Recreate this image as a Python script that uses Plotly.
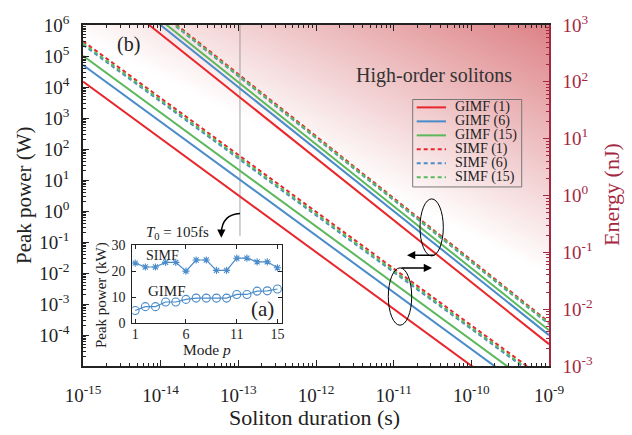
import numpy as np
import plotly.graph_objects as go

# ---- Scaling lines: soliton peak power and energy vs. duration ----
series_labels = ["GIMF (1)", "GIMF (6)", "GIMF (15)", "SIMF (1)", "SIMF (6)", "SIMF (15)"]
series_colors = ["#e8262b", "#4a8bc9", "#5cb85c", "#e8262b", "#4a8bc9", "#5cb85c"]
series_dashed = [False, False, False, True, True, True]

duration_ends = [1e-15, 1e-9]                      # s
peak_power_start = [5.07e7, 9.92e7, 1.43e8, 2.59e8, 2.24e8, 2.37e8]   # W at 1e-15 s
peak_power_end = [5.07e-5, 9.92e-5, 1.43e-4, 2.59e-4, 2.24e-4, 2.37e-4]  # W at 1e-9 s
energy_start = [101, 198, 287, 518, 448, 474]       # nJ at 1e-15 s
energy_end = [1.01e-4, 1.98e-4, 2.87e-4, 5.18e-4, 4.48e-4, 4.74e-4]   # nJ at 1e-9 s

# marker of the T0 = 105 fs duration
t0_duration = [1.05e-13, 1.05e-13]
t0_power = [1e6, 0.158]

# ---- Inset (a): peak power per mode at T0 = 105 fs ----
modes = list(range(1, 16))
simf_kw = [23.1, 21.6, 21.6, 23.4, 23.4, 20.0, 24.3, 24.3, 20.3, 20.3, 25.0, 25.0, 23.6, 23.6, 21.3]
gimf_kw = [4.8, 6.3, 6.3, 8.1, 8.1, 9.1, 9.6, 9.6, 9.6, 9.6, 11.0, 11.0, 12.3, 12.4, 13.1]

# ---- tick labels ----
x_exps = list(range(-15, -8))
p_exps = list(range(-4, 7))
e_exps = list(range(-3, 4))


def sup(e):
    return "10<sup>%d</sup>" % e


def minor_vals(lo, hi):
    return [k * 10.0 ** e for e in range(lo, hi) for k in range(2, 10)]


FONT = "Liberation Serif, Times New Roman, serif"
INK = "#222222"
CRIMSON = "#a3283f"
BLUE = "#4a8bc9"

W, H = 632, 435
L, R, T, B = 83, 549, 15, 366


def px(x):
    return (x - L) / (R - L)


def py(y):
    return (B - y) / (B - T)


fig = go.Figure()

# shaded "high-order soliton" background on a hidden linear frame
gu = np.linspace(0, 1, 160)
gv = np.linspace(0, 1, 160)
U, V = np.meshgrid(gu, gv)
shade = np.clip(1 - 0.95 * (1 - U) - 1.36 * (1 - V), 0, 1)
fig.add_trace(go.Heatmap(x=gu, y=gv, z=shade, zmin=0, zmax=1, zsmooth="best",
                         colorscale=[[0, "#ffffff"], [1, "#dd8286"]],
                         showscale=False, hoverinfo="skip", xaxis="x", yaxis="y"))

# T0 marker
fig.add_trace(go.Scatter(x=t0_duration, y=t0_power, mode="lines",
                         line=dict(color="#8a8a8a", width=0.8),
                         showlegend=False, xaxis="x2", yaxis="y2", hoverinfo="skip"))

# energy lines (right axis), then peak power lines (left axis)
for i in range(6):
    dash = "4px,3px" if series_dashed[i] else "solid"
    fig.add_trace(go.Scatter(x=duration_ends, y=[energy_start[i], energy_end[i]],
                             mode="lines", line=dict(color=series_colors[i], width=2, dash=dash),
                             showlegend=False, xaxis="x2", yaxis="y3"))
for i in range(6):
    dash = "4px,3px" if series_dashed[i] else "solid"
    fig.add_trace(go.Scatter(x=duration_ends, y=[peak_power_start[i], peak_power_end[i]],
                             mode="lines", line=dict(color=series_colors[i], width=2, dash=dash),
                             showlegend=False, xaxis="x2", yaxis="y2"))

# inset traces
fig.add_trace(go.Scatter(x=modes, y=simf_kw, mode="lines+markers",
                         line=dict(color=BLUE, width=1.2),
                         marker=dict(symbol="asterisk-open", size=6, color=BLUE,
                                     line=dict(color=BLUE, width=1.1)),
                         showlegend=False, xaxis="x4", yaxis="y4"))
fig.add_trace(go.Scatter(x=modes, y=gimf_kw, mode="lines+markers",
                         line=dict(color=BLUE, width=1.2),
                         marker=dict(symbol="circle-open", size=8, color=BLUE,
                                     line=dict(color=BLUE, width=1.1)),
                         showlegend=False, xaxis="x4", yaxis="y4"))

tickfont = dict(family=FONT, size=19, color=INK)

fig.update_layout(
    width=W, height=H,
    margin=dict(l=L, r=W - R, t=T, b=H - B, pad=0),
    paper_bgcolor="white", plot_bgcolor="white",
    showlegend=False,
    font=dict(family=FONT, color=INK),
    xaxis=dict(domain=[0, 1], range=[0, 1], visible=False, fixedrange=True),
    yaxis=dict(domain=[0, 1], range=[0, 1], visible=False, fixedrange=True),
    xaxis2=dict(type="log", overlaying="x", anchor="y2", range=[-15, -9],
                tickmode="array", tickvals=[10.0 ** e for e in x_exps],
                ticktext=[sup(e) for e in x_exps], tickfont=tickfont,
                ticks="inside", ticklen=6, tickwidth=1, tickcolor=INK,
                minor=dict(tickmode="array", tickvals=minor_vals(-15, -9),
                           ticks="inside", ticklen=3, tickcolor=INK, showgrid=False),
                showline=True, linecolor=INK, linewidth=1.5, mirror="ticks",
                showgrid=False, zeroline=False, ticklabelstandoff=11),
    yaxis2=dict(type="log", overlaying="y", anchor="x2", side="left", range=[-5, 6],
                tickmode="array", tickvals=[10.0 ** e for e in p_exps],
                ticktext=[sup(e) for e in p_exps], tickfont=tickfont,
                ticks="inside", ticklen=6, tickwidth=1, tickcolor=INK,
                minor=dict(tickmode="array", tickvals=minor_vals(-5, 6),
                           ticks="inside", ticklen=3, tickcolor=INK, showgrid=False),
                showline=True, linecolor=INK, linewidth=1.5, mirror=False,
                showgrid=False, zeroline=False, ticklabelstandoff=8),
    yaxis3=dict(type="log", overlaying="y", anchor="x2", side="right", range=[-3, 3],
                tickmode="array", tickvals=[10.0 ** e for e in e_exps],
                ticktext=[sup(e) for e in e_exps],
                tickfont=dict(family=FONT, size=19, color=CRIMSON),
                ticks="inside", ticklen=6, tickwidth=1, tickcolor=CRIMSON,
                minor=dict(tickmode="array", tickvals=minor_vals(-3, 3),
                           ticks="inside", ticklen=3, tickcolor=CRIMSON, showgrid=False),
                showline=True, linecolor=CRIMSON, linewidth=1.5,
                showgrid=False, zeroline=False, ticklabelstandoff=8),
    xaxis4=dict(domain=[px(132.3), px(282)], anchor="y4", range=[0.72, 15.45],
                tickmode="array", tickvals=[1, 6, 11, 15],
                tickfont=dict(family=FONT, size=14, color=INK),
                ticks="inside", ticklen=4, tickcolor=INK, showline=True, linecolor=INK,
                linewidth=1, mirror="ticks", showgrid=False, zeroline=False,
                ticklabelstandoff=-2),
    yaxis4=dict(domain=[py(321.7), py(241.7)], anchor="x4", range=[0, 30],
                tickmode="array", tickvals=[0, 10, 20, 30],
                tickfont=dict(family=FONT, size=14, color=INK),
                ticks="inside", ticklen=4, tickcolor=INK, showline=True, linecolor=INK,
                linewidth=1, mirror="ticks", showgrid=False, zeroline=False,
                ticklabelstandoff=3),
)

ann = []


def text(x, y, s, size, color=INK, angle=0, xanchor="center"):
    ann.append(dict(x=px(x), y=py(y), xref="paper", yref="paper", text=s, showarrow=False,
                    font=dict(family=FONT, size=size, color=color), textangle=angle,
                    xanchor=xanchor, yanchor="middle"))


text(24, 190, "Peak power (W)", 21, angle=-90)
text(314, 419, "Soliton duration (s)", 22)
text(611, 190, "Energy (nJ)", 22, color=CRIMSON, angle=-90)
text(434, 67, "High-order solitons", 20, color="#333333")
text(128.5, 35, "(b)", 20)
text(262, 307, "(a)", 21)
text(162, 252, "SIMF", 14)
text(167, 289, "GIMF", 15)
text(177, 229, "<i>T</i><sub>0</sub> = 105fs", 15)
text(101, 293, "Peak power (kW)", 15, angle=-90)
text(207, 349, "Mode <i>p</i>", 15.5)

# custom legend entries
row0, drow = 99.8, 14.4
for i, lab in enumerate(series_labels):
    text(452.7, row0 + drow * i, lab, 14, xanchor="left")

# arrows
ann.append(dict(x=px(407), y=py(252), xref="paper", yref="paper", ax=29, ay=0,
                showarrow=True, arrowhead=2, arrowsize=1.1, arrowwidth=1.5, arrowcolor="black", text=""))
ann.append(dict(x=px(432), y=py(265), xref="paper", yref="paper", ax=-32, ay=0,
                showarrow=True, arrowhead=2, arrowsize=1.1, arrowwidth=1.5, arrowcolor="black", text=""))
ann.append(dict(x=px(221.3), y=py(234), xref="paper", yref="paper", ax=0, ay=-6,
                showarrow=True, arrowhead=2, arrowsize=1.1, arrowwidth=1.5, arrowcolor="black", text=""))
fig.update_layout(annotations=ann)

shapes = []
# legend frame and samples
shapes.append(dict(type="rect", xref="paper", yref="paper", x0=px(412.7), x1=px(521.7),
                   y0=py(181.7), y1=py(91.7), line=dict(color="#777777", width=1),
                   fillcolor="rgba(0,0,0,0)"))
for i in range(6):
    yy = py(row0 + drow * i)
    shapes.append(dict(type="line", xref="paper", yref="paper", x0=px(416.7), x1=px(446),
                       y0=yy, y1=yy,
                       line=dict(color=series_colors[i], width=2,
                                 dash="4px,3px" if series_dashed[i] else "solid")))
# ellipses grouping the two families of lines
shapes.append(dict(type="circle", xref="paper", yref="paper", x0=px(420), x1=px(443.3),
                   y0=py(252.7), y1=py(194), line=dict(color="black", width=1)))
shapes.append(dict(type="circle", xref="paper", yref="paper", x0=px(388.3), x1=px(411.7),
                   y0=py(324), y1=py(265), line=dict(color="black", width=1)))
# curved arrow from the T0 marker to the inset
shapes.append(dict(type="path", xref="paper", yref="paper",
                   path="M %f,%f Q %f,%f %f,%f" % (px(240), py(209), px(222), py(210),
                                                   px(221.3), py(229)),
                   line=dict(color="black", width=1.5)))
fig.update_layout(shapes=shapes)

fig.write_html("out.html")
